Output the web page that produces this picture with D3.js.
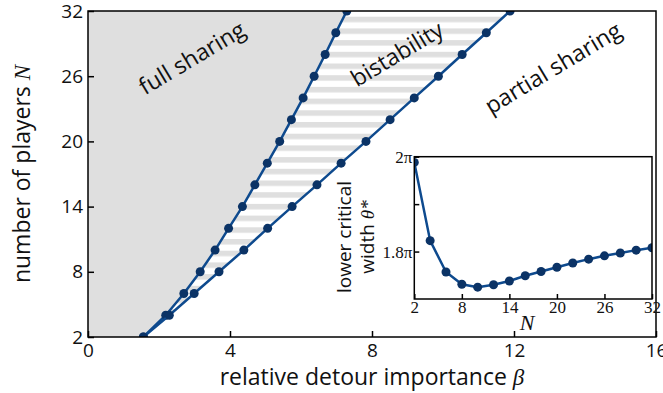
<!DOCTYPE html>
<html>
<head>
<meta charset="utf-8">
<script src="https://cdn.jsdelivr.net/npm/d3@7"></script>
<style>
  body { margin: 0; background: #fff; }
  .tick text { font-family: 'Open Sans', sans-serif; }
  .inset .tick text { font-family: 'Liberation Serif', serif; }
</style>
</head>
<body>
<div id="chart"></div>
<script>
// number of players on the phase boundaries
const nPlayers = [2, 4, 6, 8, 10, 12, 14, 16, 18, 20, 22, 24, 26, 28, 30, 32];
// beta at the boundary full sharing / bistability
const betaUpper = [1.56, 2.19, 2.70, 3.16, 3.58, 3.96, 4.35, 4.70, 5.05, 5.40, 5.73, 6.06, 6.37, 6.68, 6.98, 7.29];
// beta at the boundary bistability / partial sharing
const betaLower = [1.56, 2.29, 2.99, 3.69, 4.39, 5.06, 5.75, 6.45, 7.13, 7.83, 8.51, 9.19, 9.87, 10.54, 11.22, 11.89];
// inset: lower critical width, in units of pi
const thetaStar = [1.988, 1.823, 1.757, 1.731, 1.725, 1.730, 1.738, 1.749, 1.758, 1.767, 1.776, 1.784, 1.791, 1.797, 1.803, 1.808];

const xTicks = [0, 4, 8, 12, 16];
const yTicks = [2, 8, 14, 20, 26, 32];
const insetXTicks = [2, 8, 14, 20, 26, 32];
const insetYTicks = [1.8, 1.9, 2.0];
const insetYLabels = { 1.8: '1.8\u03c0', 2.0: '2\u03c0' };

const lineColor = '#0e4a8e';
const dotColor = '#0b3366';
const grey = '#dfdfdf';
const ink = '#111';

const svgwidth = 663;
const svgheight = 393;
const margin = { left: 88, right: 7, top: 11, bottom: 56 };
const width = svgwidth - margin.left - margin.right;
const height = svgheight - margin.top - margin.bottom;

const svg = d3.select('#chart').append('svg')
  .attr('width', svgwidth)
  .attr('height', svgheight);

const defs = svg.append('defs');
defs.append('clipPath').attr('id', 'mainClip')
  .append('rect').attr('width', width).attr('height', height);

// horizontal hatch for the bistable region
const pat = defs.append('pattern')
  .attr('id', 'hatch')
  .attr('patternUnits', 'userSpaceOnUse')
  .attr('x', 0)
  .attr('y', 5.7)
  .attr('width', 20)
  .attr('height', 11.7);
pat.append('rect').attr('width', 20).attr('height', 11.7).attr('fill', '#fff');
pat.append('rect').attr('width', 20).attr('height', 5.5).attr('fill', grey);

const g = svg.append('g')
  .attr('transform', `translate(${margin.left},${margin.top})`);

const x = d3.scaleLinear().domain([0, 16]).range([0, width]);
const y = d3.scaleLinear().domain([2, 32]).range([height, 0]);

const upper = nPlayers.map((n, i) => [betaUpper[i], n]);
const lower = nPlayers.map((n, i) => [betaLower[i], n]);

const plot = g.append('g').attr('clip-path', 'url(#mainClip)');
const line = d3.line().x(d => x(d[0])).y(d => y(d[1]));

// full sharing region
const fullPoly = [[0, 2]].concat(upper, [[0, 32]]);
plot.append('path')
  .attr('d', line(fullPoly) + 'Z')
  .attr('fill', grey);

// bistability region
const bistPoly = upper.concat(lower.slice().reverse());
plot.append('path')
  .attr('d', line(bistPoly) + 'Z')
  .attr('fill', 'url(#hatch)');

[upper, lower].forEach((pts) => {
  plot.append('path')
    .attr('d', line(pts))
    .attr('fill', 'none')
    .attr('stroke', lineColor)
    .attr('stroke-width', 2.5);
  plot.selectAll(null)
    .data(pts)
    .enter()
    .append('circle')
    .attr('cx', d => x(d[0]))
    .attr('cy', d => y(d[1]))
    .attr('r', 4.5)
    .attr('fill', dotColor);
});

// axes, ticks inside
g.append('g')
  .attr('transform', `translate(0,${height})`)
  .call(d3.axisBottom(x).tickValues(xTicks).tickSize(-6).tickPadding(6))
  .call(a => a.select('.domain').remove())
  .call(a => a.selectAll('line').attr('stroke', '#000').attr('stroke-width', 1.5))
  .call(a => a.selectAll('text').attr('font-size', 19).attr('fill', ink));

g.append('g')
  .call(d3.axisLeft(y).tickValues(yTicks).tickSize(-6).tickPadding(5))
  .call(a => a.select('.domain').remove())
  .call(a => a.selectAll('line').attr('stroke', '#000').attr('stroke-width', 1.5))
  .call(a => a.selectAll('text').attr('font-size', 19).attr('fill', ink));

g.append('rect')
  .attr('width', width)
  .attr('height', height)
  .attr('fill', 'none')
  .attr('stroke', '#000')
  .attr('stroke-width', 1.5);

// region labels
const regions = [
  { text: 'full sharing', cx: 192, cy: 58 },
  { text: 'bistability', cx: 397, cy: 54 },
  { text: 'partial sharing', cx: 553, cy: 68 },
];
svg.selectAll('.region')
  .data(regions)
  .enter()
  .append('text')
  .attr('class', 'region')
  .attr('transform', d => `translate(${d.cx},${d.cy}) rotate(-31)`)
  .attr('text-anchor', 'middle')
  .attr('dy', '0.35em')
  .attr('font-family', 'Open Sans, sans-serif')
  .attr('font-size', 23)
  .attr('fill', ink)
  .text(d => d.text);

// axis titles
const xt = svg.append('text')
  .attr('x', margin.left + width / 2)
  .attr('y', 385)
  .attr('text-anchor', 'middle')
  .attr('font-family', 'Open Sans, sans-serif')
  .attr('font-size', 23)
  .attr('fill', ink);
xt.append('tspan').text('relative detour importance ');
xt.append('tspan').attr('font-family', 'Liberation Serif, serif').attr('font-style', 'italic').text('\u03b2');

const yt = svg.append('text')
  .attr('transform', `translate(30,${margin.top + height / 2}) rotate(-90)`)
  .attr('text-anchor', 'middle')
  .attr('font-family', 'Open Sans, sans-serif')
  .attr('font-size', 23)
  .attr('fill', ink);
yt.append('tspan').text('number of players ');
yt.append('tspan').attr('font-family', 'Liberation Serif, serif').attr('font-style', 'italic').text('N');

// inset
const inset = { left: 414.3, top: 156.7, width: 237.7, height: 142.3 };
const ig = svg.append('g')
  .attr('class', 'inset')
  .attr('transform', `translate(${inset.left},${inset.top})`);
defs.append('clipPath').attr('id', 'insetClip')
  .append('rect').attr('width', inset.width).attr('height', inset.height);

const ix = d3.scaleLinear().domain([2, 32]).range([0, inset.width]);
const iy = d3.scaleLinear().domain([1.7, 2.0]).range([inset.height, 0]);

ig.append('rect')
  .attr('width', inset.width)
  .attr('height', inset.height)
  .attr('fill', '#fff');

const ip = ig.append('g').attr('clip-path', 'url(#insetClip)');
ip.append('path')
  .attr('d', d3.line().x((d, i) => ix(nPlayers[i])).y(d => iy(d))(thetaStar))
  .attr('fill', 'none')
  .attr('stroke', lineColor)
  .attr('stroke-width', 2.5);
ip.selectAll('circle')
  .data(thetaStar)
  .enter()
  .append('circle')
  .attr('cx', (d, i) => ix(nPlayers[i]))
  .attr('cy', d => iy(d))
  .attr('r', 4.5)
  .attr('fill', dotColor);

ig.append('g')
  .attr('transform', `translate(0,${inset.height})`)
  .call(d3.axisBottom(ix).tickValues(insetXTicks).tickSize(-5).tickPadding(2))
  .call(a => a.select('.domain').remove())
  .call(a => a.selectAll('line').attr('stroke', '#000').attr('stroke-width', 1.5))
  .call(a => a.selectAll('text').attr('font-size', 17).attr('fill', ink));

ig.append('g')
  .call(d3.axisLeft(iy).tickValues(insetYTicks).tickSize(-5).tickPadding(2)
    .tickFormat(d => insetYLabels[d] || ''))
  .call(a => a.select('.domain').remove())
  .call(a => a.selectAll('line').attr('stroke', '#000').attr('stroke-width', 1.5))
  .call(a => a.selectAll('text').attr('font-size', 17).attr('fill', ink));

ig.append('rect')
  .attr('width', inset.width)
  .attr('height', inset.height)
  .attr('fill', 'none')
  .attr('stroke', '#000')
  .attr('stroke-width', 1.5);

svg.append('text')
  .attr('x', 527)
  .attr('y', 330)
  .attr('text-anchor', 'middle')
  .attr('font-family', 'Liberation Serif, serif')
  .attr('font-style', 'italic')
  .attr('font-size', 22)
  .attr('fill', ink)
  .text('N');

// inset y title, two lines
const it = svg.append('text')
  .attr('transform', 'translate(357,237) rotate(-90)')
  .attr('text-anchor', 'middle')
  .attr('font-family', 'Open Sans, sans-serif')
  .attr('font-size', 19)
  .attr('fill', ink);
it.append('tspan').attr('x', 0).attr('dy', '-0.3em').text('lower critical');
const it2 = it.append('tspan').attr('x', 0).attr('dy', '1.2em');
it2.append('tspan').text('width ');
it2.append('tspan').attr('font-family', 'Liberation Serif, serif').attr('font-style', 'italic').text('\u03b8*');
</script>
</body>
</html>
